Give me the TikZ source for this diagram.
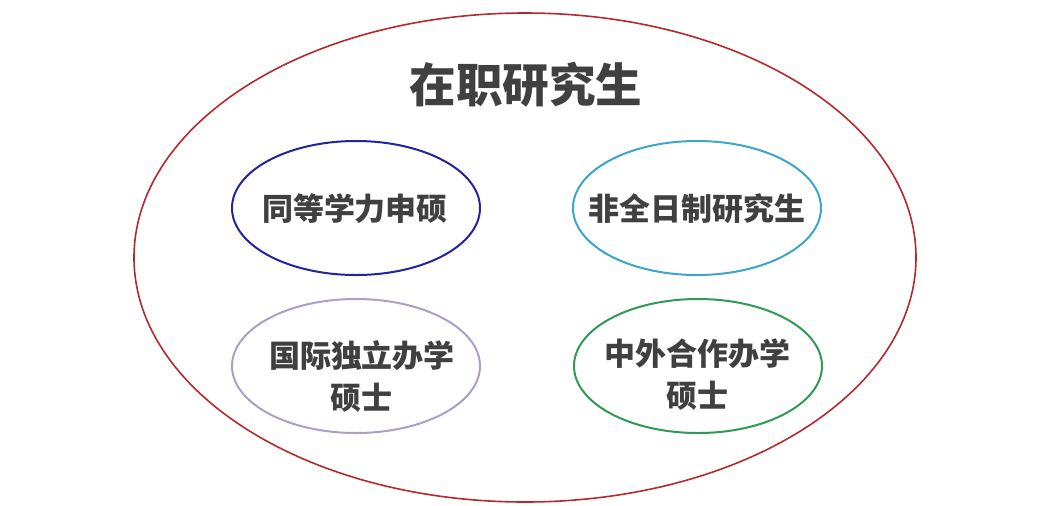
\documentclass[tikz,border=0pt]{standalone}
\usepackage{fontspec}
\newfontfamily\cjk{Noto Sans CJK SC}
\usetikzlibrary{shapes.geometric}
\definecolor{outerred}{HTML}{B5282E}
\definecolor{ringblue}{HTML}{23239E}
\definecolor{ringcyan}{HTML}{3AA6C9}
\definecolor{ringlilac}{HTML}{AC9EC4}
\definecolor{ringgreen}{HTML}{2F9A55}
\definecolor{textgray}{HTML}{404040}
\begin{document}
\begin{tikzpicture}[x=0.5pt, y=-0.5pt,
    ring/.style={draw=#1, line width=1pt, ellipse, minimum width=124pt, minimum height=67pt, inner sep=0pt},
    kind/.style={text=textgray, align=center, font=\cjk\bfseries\fontsize{15.5}{21}\selectfont}]
        \useasboundingbox (0, 0) rectangle (1057, 505);
        \node[draw=outerred, line width=0.8pt, ellipse, minimum width=391pt, minimum height=244.5pt, inner sep=0pt] (outer) at (525, 257.5) {};
        \node[text=textgray, font=\cjk\bfseries\fontsize{23.3}{28}\selectfont] (title) at (526, 85) {在职研究生};
        \node[ring=ringblue] (tongdeng) at (356, 208) {};
        \node[ring=ringcyan] (feiquanri) at (697, 208) {};
        \node[ring=ringlilac] (duli) at (356, 366) {};
        \node[ring=ringgreen] (hezuo) at (698, 366) {};
        \node[kind] (tongdengtext) at (355, 209) {同等学力申硕};
        \node[kind] (feiquanritext) at (697, 209) {非全日制研究生};
        \node[kind] (dulitext) at (362, 376) {国际独立办学\\硕士};
        \node[kind] (hezuotext) at (697, 375) {中外合作办学\\硕士};
    \end{tikzpicture}
\end{document}
